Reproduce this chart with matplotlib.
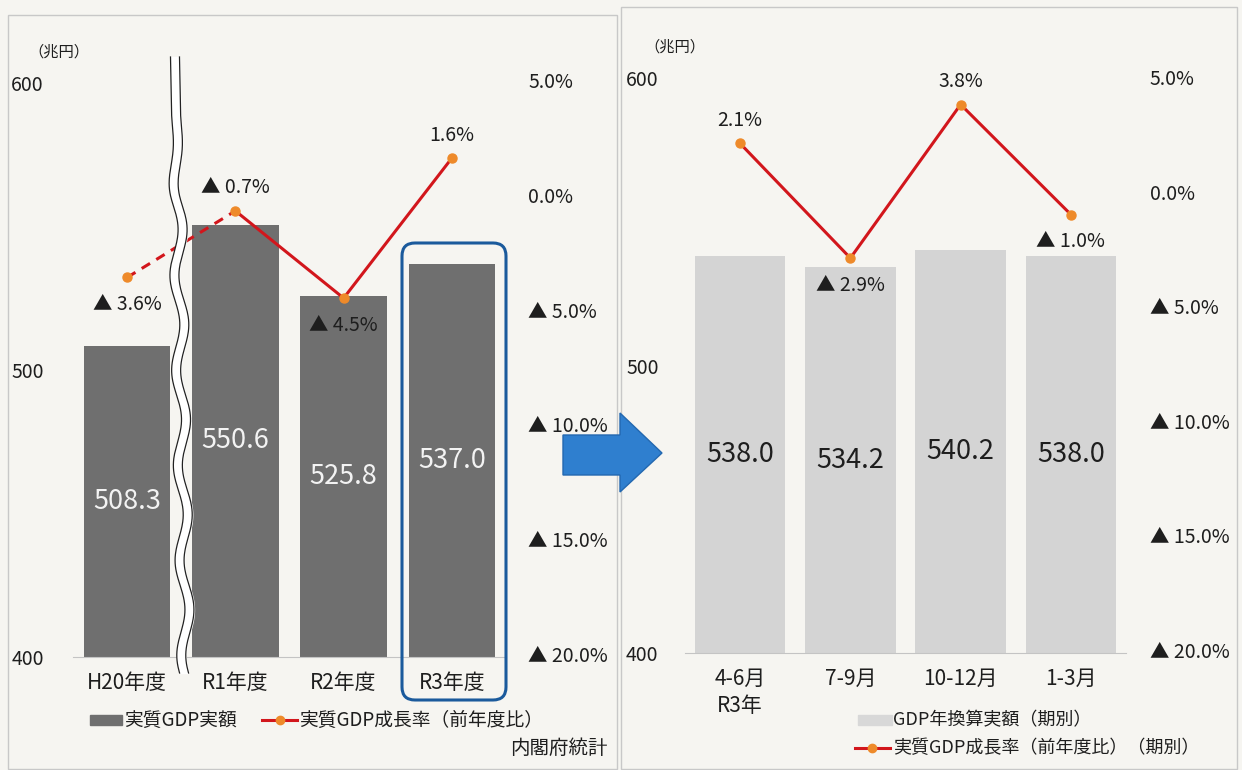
import numpy as np
import matplotlib
matplotlib.use("Agg")
import matplotlib.pyplot as plt
from matplotlib.patches import Rectangle, Polygon, FancyBboxPatch
from matplotlib.ticker import FuncFormatter

plt.rcParams['font.family'] = ['Noto Sans CJK JP', 'DejaVu Sans']

# ---- data ----
fy_labels = ["H20年度", "R1年度", "R2年度", "R3年度"]
fy_gdp = [508.3, 550.6, 525.8, 537.0]
fy_growth = [-3.6, -0.7, -4.5, 1.6]
fy_label_side = [-1, 1, -1, 1]      # below / above the point

q_labels = ["4-6月\nR3年", "7-9月", "10-12月", "1-3月"]
q_gdp = [538.0, 534.2, 540.2, 538.0]
q_growth = [2.1, -2.9, 3.8, -1.0]
q_label_side = [1, -1, 1, -1]

gdp_ticks = [400, 500, 600]
pct_ticks = [-20, -15, -10, -5, 0, 5]

W, H = 1242, 770
RED = '#d2161c'
ORANGE = '#ee8a2a'
TXT = '#1e1e1e'

fig = plt.figure(figsize=(W / 100, H / 100), dpi=100, facecolor='#f6f5f1')


def px_axes(x0, y0, x1, y1):
    return fig.add_axes([x0 / W, 1 - y1 / H, (x1 - x0) / W, (y1 - y0) / H])


def pct(v, _=None):
    if v > -1e-9:
        return "%.1f%%" % abs(v)
    return "▲ %.1f%%" % (-v)


def panel(box, ylim_gdp, ylim_pct, labels, gdp, growth, sides, bar_color,
          val_color, bar_w, lpad, rpad, dashed_first):
    ax = px_axes(*box)
    ax.set_facecolor('none')
    x = np.arange(len(labels))
    ax.bar(x, gdp, width=bar_w, color=bar_color, zorder=2)
    ax.set_xlim(-0.5, len(labels) - 0.5)
    ax.set_ylim(*ylim_gdp)
    ax.set_yticks(gdp_ticks)
    ax.set_xticks(x)
    ax.set_xticklabels(labels, fontsize=15, color=TXT, linespacing=1.3)
    for s in ['top', 'left', 'right']:
        ax.spines[s].set_visible(False)
    ax.spines['bottom'].set_color('#c4c4c4')
    ax.tick_params(axis='x', length=0, pad=11)
    ax.tick_params(axis='y', length=0, pad=lpad, labelsize=14, labelcolor=TXT)
    for i, v in enumerate(gdp):
        ax.text(i, (ylim_gdp[0] + v) / 2, "%.1f" % v, ha='center', va='center',
                fontsize=19.5, color=val_color, zorder=3)

    ax2 = ax.twinx()
    ax2.set_ylim(*ylim_pct)
    ax2.set_yticks(pct_ticks)
    ax2.yaxis.set_major_formatter(FuncFormatter(pct))
    for s in ['top', 'left', 'right', 'bottom']:
        ax2.spines[s].set_visible(False)
    ax2.tick_params(axis='y', length=0, pad=rpad, labelsize=14, labelcolor=TXT)
    if dashed_first:
        ax2.plot(x[:2], growth[:2], color=RED, lw=2.2, ls=(0, (3.2, 2.4)))
        ax2.plot(x[1:], growth[1:], color=RED, lw=2.2)
    else:
        ax2.plot(x, growth, color=RED, lw=2.2)
    ax2.plot(x, growth, 'o', ms=6.5, color=ORANGE, zorder=4)
    for i, (v, sd) in enumerate(zip(growth, sides)):
        ax2.annotate(pct(v), (i, v), xytext=(0, 16.5 if sd > 0 else -19.5),
                     textcoords='offset points', ha='center', va='center',
                     fontsize=14, color=TXT)
    return ax, ax2


# left panel: annual
panel((73, 80, 506, 657), (400, 601.05), (-20.13, 5), fy_labels, fy_gdp,
      fy_growth, fy_label_side, '#6f6f6f', '#f3f3f3', 0.8, 21, 16, True)

# right panel: quarterly
panel((685, 77, 1126, 653), (400, 600.35), (-20.13, 5), q_labels, q_gdp,
      q_growth, q_label_side, '#d4d4d4', '#1e1e1e', 0.82, 19, 17, False)

# ---- overlay in pixel coordinates ----
ov = fig.add_axes([0, 0, 1, 1], zorder=10)
ov.set_xlim(0, W)
ov.set_ylim(H, 0)
ov.axis('off')
ov.patch.set_alpha(0)

# panel frames
ov.add_patch(Rectangle((8, 15), 609, 754, fill=False, ec='#c8c8c8', lw=1))
ov.add_patch(Rectangle((621, 7), 616, 762, fill=False, ec='#c8c8c8', lw=1))

# axis break (wavy double line)
yy = np.linspace(57, 673, 400)
ramp = np.clip((yy - 110) / 90, 0, 1)
cx = 175 + 0.018 * (yy - 57) + 4.5 * np.sin((yy - 110) / 95 * 2 * np.pi) * ramp
ov.fill_betweenx(yy, cx - 4.5, cx + 4.5, color='white', zorder=1)
ov.plot(cx - 4.5, yy, color='#222222', lw=0.9, zorder=2)
ov.plot(cx + 4.5, yy, color='#222222', lw=0.9, zorder=2)

# highlight box around R3
ov.add_patch(FancyBboxPatch((402, 243), 104, 457,
                            boxstyle='round,pad=0,rounding_size=13',
                            fill=False, ec='#1b5a9c', lw=2.2))

# arrow between panels
ov.add_patch(Polygon([(563, 435), (620, 435), (620, 413), (662, 453),
                      (620, 492), (620, 475), (563, 475)],
                     closed=True, fc='#2f7fcf', ec='#2368b0', lw=1))

# unit labels
ov.text(28, 52, "（兆円）", fontsize=11, color=TXT, va='center', ha='left')
ov.text(644, 47, "（兆円）", fontsize=11, color=TXT, va='center', ha='left')

# legends
ov.add_patch(Rectangle((90, 715), 32, 10, color='#6f6f6f'))
ov.text(124, 720, "実質GDP実額", fontsize=13.5, color=TXT, va='center')
ov.plot([262, 297], [720, 720], color=RED, lw=2.2)
ov.plot([280], [720], 'o', ms=6, color=ORANGE)
ov.text(299, 720, "実質GDP成長率（前年度比）", fontsize=13.5, color=TXT, va='center')
ov.text(608, 748, "内閣府統計", fontsize=14, color=TXT, va='center', ha='right')

ov.add_patch(Rectangle((858, 715), 34, 10, color='#d8d8d8'))
ov.text(893, 720, "GDP年換算実額（期別）", fontsize=13, color=TXT, va='center')
ov.plot([855, 890], [748, 748], color=RED, lw=2.2)
ov.plot([872], [748], 'o', ms=6, color=ORANGE)
ov.text(893, 748, "実質GDP成長率（前年度比）（期別）", fontsize=13, color=TXT, va='center')

fig.savefig("out.png", dpi=100, facecolor=fig.get_facecolor())
